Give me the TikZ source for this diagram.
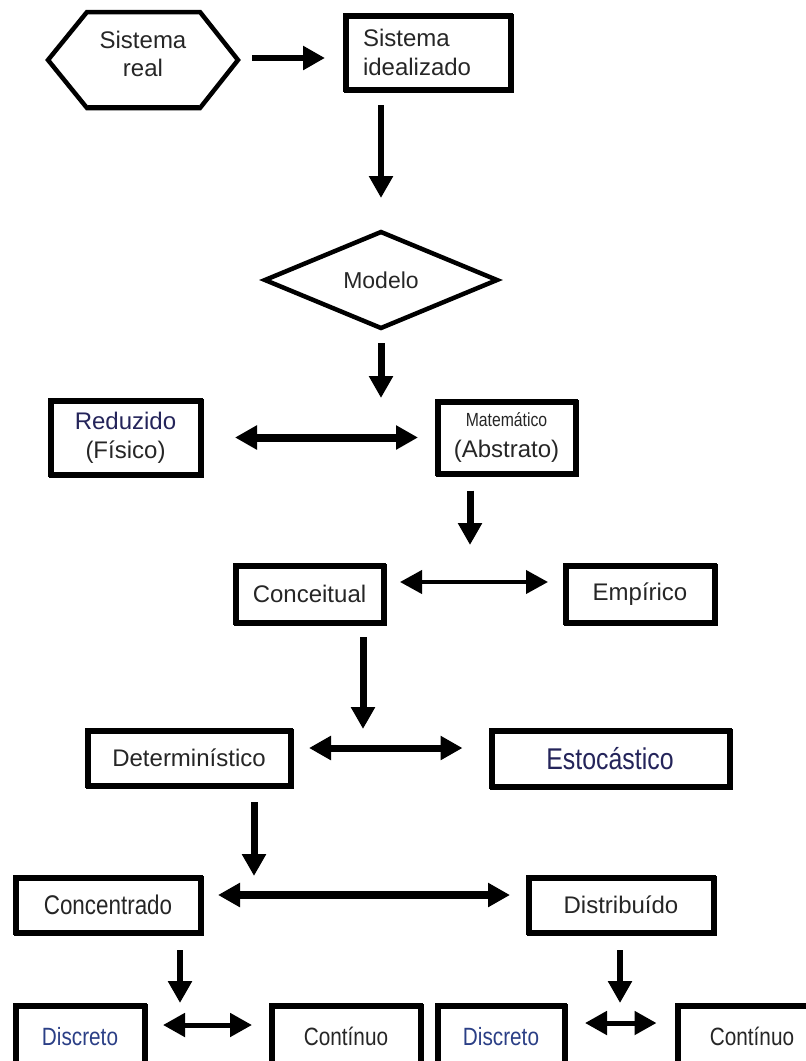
\documentclass[tikz,border=0pt]{standalone}
\usepackage{fontspec}
\setmainfont{Liberation Sans}
\newfontfamily\narrowfont{Liberation Sans}[FakeStretch=0.83]
\usetikzlibrary{arrows.meta,calc}
\definecolor{txt}{HTML}{262626}
\definecolor{navy}{HTML}{24245A}
\definecolor{bluetxt}{HTML}{2B3F86}
\newcommand\fsz[2]{\fontsize{#1}{#2}\selectfont}
\begin{document}
\begin{tikzpicture}[x=1pt,y=-1pt,
  box/.style={draw, line width=5pt, inner sep=0pt, text=txt, font=\fsz{24}{29}, align=center,
    preaction={draw, line width=5pt, transform canvas={shift={(1.2pt,-1.2pt)}}}},
  shape node/.style={inner sep=0pt, outer sep=0pt, text=txt, font=\fsz{24}{28}, align=center},
  tipA/.tip={Triangle[length=22pt,width=23pt]},
  arr/.style={line width=6pt, -tipA},
  darr/.style={line width=6pt, tipA-tipA},
  outl/.style={line width=4.5pt, line join=miter}
]
\useasboundingbox (0,0) rectangle (806,1061);
\clip (0,0) rectangle (806,1061);

% hexagon
\node[shape node, minimum width=190pt, minimum height=96pt, text depth=12pt] (real) at (143,60) {Sistema\\real};
\draw[outl] (real.west) -- ($(real.north west)+(39,0)$) -- ($(real.north east)+(-38,0)$) -- (real.east)
  -- ($(real.south east)+(-38,0)$) -- ($(real.south west)+(39,0)$) -- cycle;
\draw[line width=3pt] ($(real.south east)+(-39,-2)$) -- ($(real.south west)+(40,-2)$);

\node[box, minimum width=165pt, minimum height=74pt, text width=130pt, align=left] (ideal) at (428,52.5) {Sistema\\idealizado};

% diamond
\node[shape node, minimum width=232pt, minimum height=96pt, font=\fsz{23}{28}] (modelo) at (381,280) {Modelo};
\draw[outl] (modelo.west) -- (modelo.north) -- (modelo.east) -- (modelo.south) -- cycle;

\node[box, minimum width=150pt, minimum height=74pt] (red) at (125.5,437.5) {\textcolor{navy}{Reduzido}\\(Físico)};
\node[box, minimum width=138pt, minimum height=72pt] (mat) at (506.5,437) {{\narrowfont\fsz{19}{22}Matemático}\\[2pt](Abstrato)};

\node[box, minimum width=148pt, minimum height=57pt] (conc) at (309.5,594) {Conceitual};
\node[box, minimum width=149pt, minimum height=57pt] (emp) at (640,594) {Empírico};

\node[box, minimum width=203pt, minimum height=55pt] (det) at (189,758) {Determinístico};
\node[box, minimum width=238pt, minimum height=56pt, font=\narrowfont\fsz{30}{34}, text=navy] (est) at (610,758.5) {Estocástico};

\node[box, minimum width=185pt, minimum height=55pt, font=\narrowfont\fsz{27}{30}] (concen) at (108,905) {Concentrado};
\node[box, minimum width=185pt, minimum height=55pt] (dist) at (621,905) {Distribuído};

\node[box, minimum width=129pt, minimum height=62pt, font=\narrowfont\fsz{25}{29}, text=bluetxt] (disc1) at (80,1036.5) {Discreto};
\node[box, minimum width=149pt, minimum height=62pt, font=\narrowfont\fsz{25}{29}] (cont1) at (346,1036.5) {Contínuo};
\node[box, minimum width=127pt, minimum height=62pt, font=\narrowfont\fsz{25}{29}, text=bluetxt] (disc2) at (501,1036.5) {Discreto};
\node[box, minimum width=150pt, minimum height=62pt, font=\narrowfont\fsz{25}{29}] (cont2) at (752,1036.5) {Contínuo};

% target points of the vertical arrows
\coordinate (t1) at (381,398);
\coordinate (t2) at (470,545);
\coordinate (t3) at (363,729);
\coordinate (t4) at (254,876);
\coordinate (t5) at (180,1003);
\coordinate (t6) at (620,1003);

% connectors
\draw[arr, shorten <=14pt, shorten >=18pt] ($(real.east)+(0,-2)$) -- ($(real.east -| ideal.west)+(0,-2)$);
\draw[arr, shorten <=13pt, shorten >=34pt] (ideal.south -| modelo.north) -- (modelo.north);
\draw[arr, line width=7pt, shorten <=15pt] (modelo.south) -- (t1);
\draw[darr, line width=8pt, shorten <=32pt, shorten >=17pt] (red.east) -- (red.east -| mat.west);
\draw[arr, line width=7pt, shorten <=15pt] (mat.south -| t2) -- (t2);
\draw[darr, line width=4pt, shorten <=14pt, shorten >=15pt] ($(conc.east)+(0,-12)$) -- ($(emp.west)+(0,-12)$);
\draw[arr, line width=7pt, shorten <=12pt] (conc.south -| t3) -- (t3);
\draw[darr, line width=7pt, shorten <=16pt, shorten >=26pt] ($(det.east)+(0,-10)$) -- ($(det.east -| est.west)+(0,-10)$);
\draw[arr, line width=7pt, shorten <=14pt] (det.south -| t4) -- (t4);
\draw[darr, line width=8pt, shorten <=15pt, shorten >=16pt] ($(concen.east)+(0,-10)$) -- ($(dist.west)+(0,-10)$);
\draw[arr, shorten <=15pt] (concen.south -| t5) -- (t5);
\draw[arr, shorten <=15pt] (dist.south -| t6) -- (t6);
\draw[darr, line width=5pt, shorten <=16pt, shorten >=17pt] ($(disc1.east)+(0,-11.5)$) -- ($(cont1.west)+(0,-11.5)$);
\draw[darr, line width=5pt, shorten <=18pt, shorten >=18pt] ($(disc2.east)+(0,-13.5)$) -- ($(cont2.west)+(0,-13.5)$);
\end{tikzpicture}
\end{document}
